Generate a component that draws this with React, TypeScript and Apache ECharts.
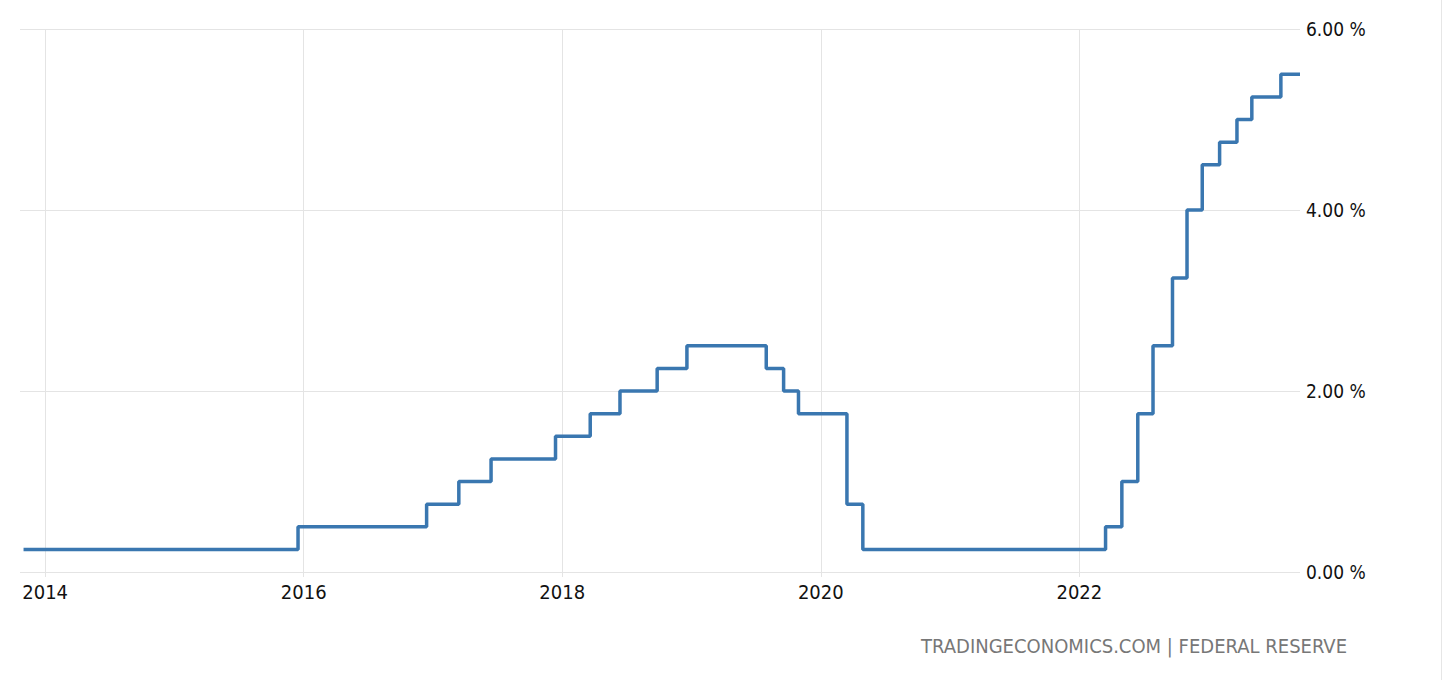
import React, { useEffect, useRef } from "react";
import * as echarts from "echarts";

// Fed funds target rate (upper bound) – each entry: date the level starts, level in %
const changeDates: string[] = [
  "2013-11-01", "2015-12-16", "2016-12-14", "2017-03-15", "2017-06-14", "2017-12-13",
  "2018-03-21", "2018-06-13", "2018-09-26", "2018-12-19", "2019-07-31", "2019-09-18",
  "2019-10-30", "2020-03-15", "2020-04-29", "2022-03-16", "2022-05-01", "2022-06-15",
  "2022-07-28", "2022-09-21", "2022-11-01", "2022-12-14", "2023-02-01", "2023-03-22",
  "2023-05-03", "2023-07-24", "2023-09-16",
];
const rateValues: number[] = [
  0.25, 0.5, 0.75, 1.0, 1.25, 1.5,
  1.75, 2.0, 2.25, 2.5, 2.25, 2.0,
  1.75, 0.75, 0.25, 0.5, 1.0, 1.75,
  2.5, 3.25, 4.0, 4.5, 4.75, 5.0,
  5.25, 5.5, 5.5,
];
const yearTicks: number[] = [2014, 2016, 2018, 2020, 2022];
const axisStart = "2013-10-22";
const axisEnd = "2023-09-16";
const sourceText = "TRADINGECONOMICS.COM | FEDERAL RESERVE";

const FONT = "'DejaVu Sans Condensed', 'DejaVu Sans', sans-serif";

// convert an ISO date string to a fractional year
function toYear(d: string): number {
  const [y, m, day] = d.split("-").map(Number);
  const start = Date.UTC(y, 0, 1);
  const end = Date.UTC(y + 1, 0, 1);
  const t = Date.UTC(y, m - 1, day);
  return y + (t - start) / (end - start);
}

export default function App() {
  const ref = useRef<HTMLDivElement>(null);
  useEffect(() => {
    if (!ref.current) return;
    const chart = echarts.init(ref.current, undefined, { renderer: "svg" });
    chart.setOption({
      animation: false,
      backgroundColor: "#ffffff",
      grid: { left: 20, right: 156, top: 29, bottom: 108, containLabel: false },
      xAxis: {
        type: "value",
        min: toYear(axisStart),
        max: toYear(axisEnd),
        axisLine: { show: false },
        axisTick: { show: true, length: 5, lineStyle: { color: "#e4e4e4" }, customValues: yearTicks },
        splitLine: { show: true, lineStyle: { color: "#e4e4e4", width: 1 } },
        axisLabel: {
          customValues: yearTicks,
          margin: 10,
          color: "#111",
          fontSize: 20,
          fontFamily: FONT,
          formatter: (v: number) => String(Math.round(v)),
        },
      },
      yAxis: {
        type: "value",
        position: "right",
        min: 0,
        max: 6,
        interval: 2,
        axisLine: { show: false },
        axisTick: { show: false },
        splitLine: { show: true, lineStyle: { color: "#e4e4e4", width: 1 } },
        axisLabel: {
          margin: 6,
          color: "#111",
          fontSize: 19,
          fontFamily: FONT,
          formatter: (v: number) => v.toFixed(2) + " %",
        },
      },
      series: [
        {
          type: "line",
          step: "end",
          showSymbol: false,
          symbol: "none",
          data: changeDates.map((d, i) => [toYear(d), rateValues[i]]),
          lineStyle: { color: "#3a77b0", width: 3.5 },
        },
      ],
      graphic: [
        {
          type: "line",
          shape: { x1: 1441.5, y1: 0, x2: 1441.5, y2: 680 },
          style: { stroke: "#e6e6e6", lineWidth: 1 },
        },
        {
          type: "text",
          right: 1456 - 1347,
          top: 636,
          style: {
            text: sourceText,
            fill: "#777777",
            font: `20px ${FONT}`,
          },
        },
      ],
    });
    return () => chart.dispose();
  }, []);
  return (
    <div
      ref={ref}
      style={{ position: "fixed", left: 0, top: 0, width: 1456, height: 680, background: "#fff" }}
    />
  );
}
